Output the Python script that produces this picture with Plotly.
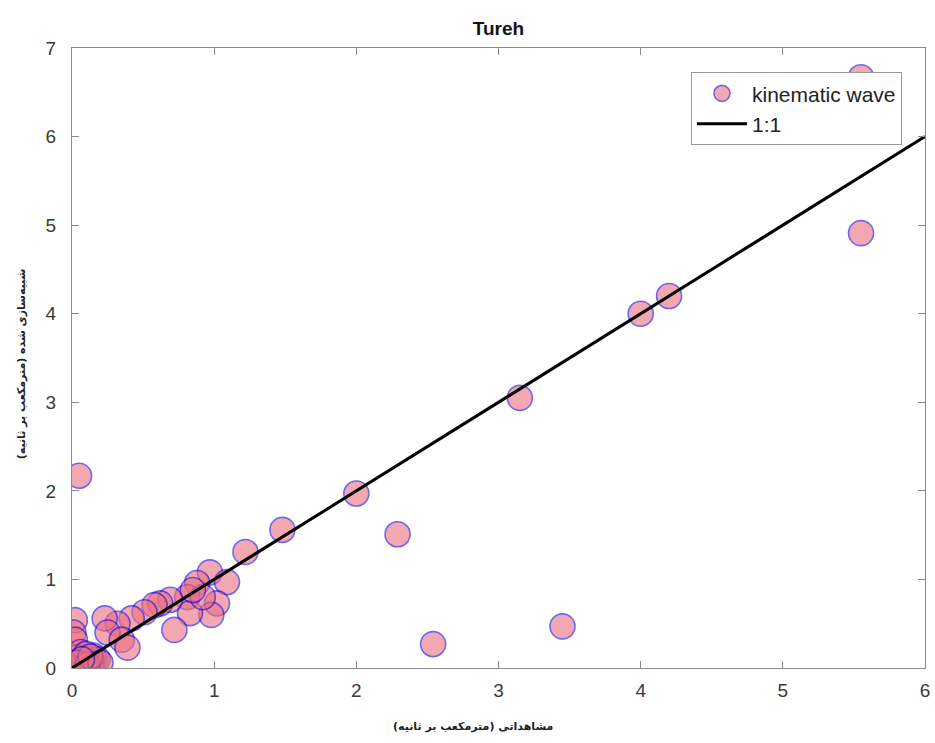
import plotly.graph_objects as go

# observed (x) and simulated (y) discharge, m3/s
obs = [5.55, 5.55, 4.20, 4.00, 3.15, 3.45, 2.54, 2.29, 2.00, 1.48, 1.22, 0.05,
       0.97, 1.09, 0.88, 1.02, 0.98, 0.81, 0.83, 0.72, 0.69, 0.62, 0.92, 0.85,
       0.58, 0.51, 0.42, 0.32, 0.23, 0.25, 0.35, 0.39, 0.02, 0.01, 0.02, 0.16,
       0.01, 0.02, 0.04, 0.05, 0.07, 0.08, 0.10, 0.12, 0.14, 0.03, 0.15, 0.18,
       0.06, 0.10, 0.04, 0.09, 0.00, 0.03, 0.11, 0.13, 0.20, 0.07]
sim = [6.67, 4.91, 4.20, 4.00, 3.05, 0.47, 0.27, 1.51, 1.97, 1.56, 1.31, 2.17,
       1.08, 0.97, 0.96, 0.73, 0.60, 0.80, 0.62, 0.43, 0.77, 0.73, 0.80, 0.88,
       0.71, 0.63, 0.56, 0.50, 0.56, 0.40, 0.32, 0.23, 0.54, 0.40, 0.32, 0.09,
       0.01, 0.04, 0.02, 0.08, 0.05, 0.12, 0.07, 0.10, 0.06, 0.12, 0.14, 0.10,
       0.18, 0.16, 0.06, 0.03, 0.00, 0.06, 0.04, 0.13, 0.06, 0.10]

line_x = [0, 6]
line_y = [0, 6]

x_ticks = [0, 1, 2, 3, 4, 5, 6]
y_ticks = [0, 1, 2, 3, 4, 5, 6, 7]

title = "Tureh"
x_label = "مشاهداتی (مترمکعب بر ثانیه)"
y_label = "شبیه‌سازی شده (مترمکعب بر ثانیه)"

fig = go.Figure()
fig.add_trace(go.Scatter(
    x=obs, y=sim, mode="markers", name="kinematic wave",
    marker=dict(size=25, color="rgb(236,112,126)", opacity=0.6,
                line=dict(color="rgb(20,0,230)", width=1.6)),
))
fig.add_trace(go.Scatter(
    x=line_x, y=line_y, mode="lines", name="1:1",
    line=dict(color="black", width=3),
))

axis_common = dict(
    showgrid=False, zeroline=False, showline=True, linecolor="#8a8a8a",
    linewidth=1, mirror="ticks", ticks="inside", ticklen=7,
    tickcolor="#8a8a8a", automargin=False,
    tickfont=dict(family="Liberation Sans", size=19, color="#3a3a3a"),
)

fig.update_layout(
    width=935, height=743,
    margin=dict(l=72, r=10, t=48, b=75),
    paper_bgcolor="white", plot_bgcolor="white",
    title=dict(text="<b>" + title + "</b>", xref="paper", x=0.5, xanchor="center",
               y=0.962, yanchor="middle",
               font=dict(family="Liberation Sans", size=19, color="#111111")),
    xaxis=dict(range=[0, 6], tickvals=x_ticks, ticklabelstandoff=5, **axis_common),
    yaxis=dict(range=[0, 7], tickvals=y_ticks, ticklabelstandoff=11, **axis_common),
    legend=dict(x=0.973, y=0.961, xanchor="right", yanchor="top",
                bgcolor="white", bordercolor="#999999", borderwidth=1,
                font=dict(family="Liberation Sans", size=21, color="#222222"),
                itemwidth=50, tracegroupgap=0),
    showlegend=True,
    annotations=[
        dict(text="<b>" + x_label + "</b>", xref="paper", yref="paper",
             x=0.47, y=0, yshift=-58, xanchor="center", yanchor="middle",
             showarrow=False,
             font=dict(family="DejaVu Sans", size=11, color="#222222")),
        dict(text="<b>" + y_label + "</b>", xref="paper", yref="paper",
             x=0, y=0.49, xshift=-51, xanchor="center", yanchor="middle",
             textangle=-90, showarrow=False,
             font=dict(family="DejaVu Sans", size=11, color="#222222")),
    ],
)

fig.write_html(
    "out.html",
    config={"displayModeBar": False},
    post_script="document.body.style.margin='0';document.body.style.overflow='hidden';",
)
